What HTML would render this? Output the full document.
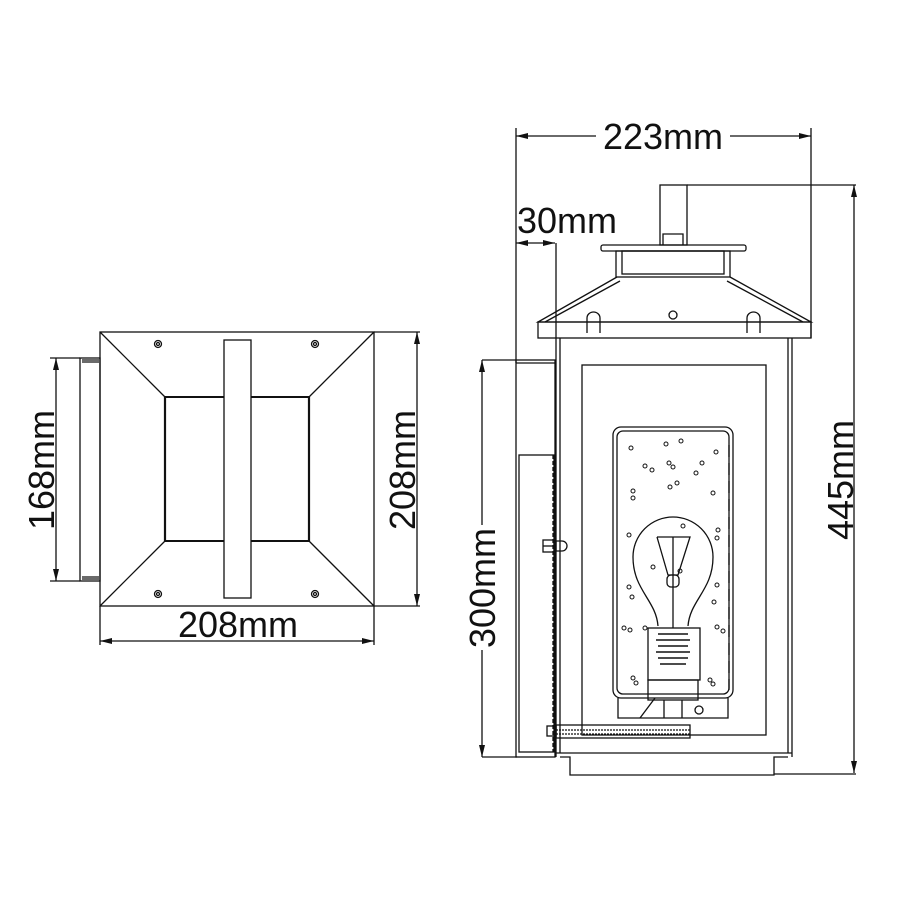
<!DOCTYPE html>
<html><head><meta charset="utf-8"><style>
html,body{margin:0;padding:0;background:#fff;width:900px;height:900px;overflow:hidden}
svg{display:block}
text{font-family:"Liberation Sans",Arial,sans-serif;font-size:36px;fill:#111}
</style></head><body>
<svg width="900" height="900" viewBox="0 0 900 900" xmlns="http://www.w3.org/2000/svg">
<g fill="none" stroke="#111" stroke-width="1.3">
<!-- LEFT VIEW -->
<rect x="100" y="332" width="274" height="274"/>
<rect x="80" y="358" width="20" height="223"/>
<line x1="82" y1="360" x2="99" y2="360"/><line x1="82" y1="362" x2="99" y2="362"/>
<line x1="82" y1="577" x2="99" y2="577"/><line x1="82" y1="579" x2="99" y2="579"/>
<line x1="100" y1="332" x2="165" y2="397"/><line x1="374" y1="332" x2="309" y2="397"/>
<line x1="100" y1="606" x2="165" y2="541"/><line x1="374" y1="606" x2="309" y2="541"/>
<line x1="165" y1="397" x2="165" y2="541" stroke-width="2.2"/><line x1="309" y1="397" x2="309" y2="541" stroke-width="2.2"/>
<line x1="165" y1="397" x2="224" y2="397" stroke-width="2"/><line x1="251" y1="397" x2="309" y2="397" stroke-width="2"/>
<line x1="165" y1="541" x2="224" y2="541" stroke-width="2"/><line x1="251" y1="541" x2="309" y2="541" stroke-width="2"/>
<rect x="224" y="340" width="27" height="258"/>
<circle cx="158" cy="344" r="3.5"/><circle cx="158" cy="344" r="1.5"/>
<circle cx="315" cy="344" r="3.5"/><circle cx="315" cy="344" r="1.5"/>
<circle cx="158" cy="594" r="3.5"/><circle cx="158" cy="594" r="1.5"/>
<circle cx="315" cy="594" r="3.5"/><circle cx="315" cy="594" r="1.5"/>
<!-- dims left -->
<line x1="50" y1="358" x2="80" y2="358"/><line x1="50" y1="581" x2="80" y2="581"/>
<line x1="56" y1="358" x2="56" y2="581"/>
<line x1="374" y1="332" x2="420" y2="332"/><line x1="374" y1="606" x2="420" y2="606"/>
<line x1="417" y1="332" x2="417" y2="606"/>
<line x1="100" y1="606" x2="100" y2="645"/><line x1="374" y1="606" x2="374" y2="645"/>
<line x1="100" y1="641" x2="374" y2="641"/>
<!-- RIGHT VIEW dims -->
<line x1="516" y1="136" x2="811" y2="136"/>
<line x1="516" y1="128" x2="516" y2="363"/><line x1="811" y1="128" x2="811" y2="338"/>
<line x1="687" y1="185" x2="856" y2="185"/>
<line x1="854" y1="185" x2="854" y2="773"/>
<line x1="774" y1="774" x2="856" y2="774"/>
<line x1="516" y1="243" x2="555" y2="243"/>
<line x1="556" y1="243" x2="556" y2="338"/>
<line x1="482" y1="360" x2="516" y2="360"/>
<line x1="482" y1="360" x2="482" y2="525"/><line x1="482" y1="650" x2="482" y2="757"/>
<line x1="482" y1="757" x2="517" y2="757"/>
<!-- chimney & cap -->
<rect x="660" y="185" width="27" height="60"/>
<polyline points="663,245 663,234 683,234 683,245"/>
<rect x="601" y="245" width="145" height="6" rx="2"/>
<rect x="616" y="251" width="114" height="26"/>
<rect x="622" y="251" width="102" height="23"/>
<!-- roof -->
<polyline points="617,277 538,322 811,322 730,277"/>
<polyline points="620,281 545,322"/><polyline points="727,281 803,322"/>
<rect x="538" y="322" width="273" height="16"/>
<path d="M587,333 V318 a6.5,6 0 0 1 13,0 V333"/>
<path d="M747,333 V318 a6.5,6 0 0 1 13,0 V333"/>
<circle cx="673" cy="315" r="4"/>
<!-- body -->
<line x1="556" y1="338" x2="556" y2="757"/><line x1="560" y1="338" x2="560" y2="753"/>
<line x1="792" y1="338" x2="792" y2="757"/><line x1="788" y1="338" x2="788" y2="753"/>
<line x1="556" y1="753" x2="792" y2="753"/>
<polyline points="560,757 570,757 570,775 774,775 774,757 788,757"/>
<rect x="582" y="365" width="184" height="370"/>
<!-- back plate -->
<rect x="516" y="360" width="39" height="397"/>
<line x1="516" y1="363" x2="555" y2="363"/>
<rect x="519" y="455" width="35" height="297"/>
<line x1="553" y1="455" x2="553" y2="752" stroke-dasharray="4,2"/>
<rect x="543" y="540" width="11" height="12"/><line x1="543" y1="546" x2="554" y2="546"/>
<path d="M556,541 h6 a5,5 0 0 1 0,10 h-6z"/>
<!-- glass -->
<rect x="613" y="427" width="120" height="271" rx="8"/>
<rect x="617" y="431" width="112" height="263" rx="6"/>
<line x1="729" y1="445" x2="729" y2="690" stroke-dasharray="12,6"/>
<!-- bulb -->
<path d="M658,626 C656,600 633,590 633,557 A40,40 0 0 1 713,557 C713,590 690,600 688,626"/>
<polyline points="657,537 690,537 678,575 668,575 657,537"/>
<line x1="673" y1="537" x2="673" y2="628"/>
<rect x="667" y="575" width="12" height="12" rx="4"/>
<rect x="648" y="628" width="52" height="52"/>
<rect x="648" y="680" width="50" height="20"/>
<path d="M658,634 h30 M656,640 h34 M658,646 h30 M656,652 h34 M658,658 h30 M660,664 h26" stroke-width="1.6"/>
<polyline points="618,698 618,718 728,718 728,698"/>
<line x1="664" y1="700" x2="664" y2="718"/><line x1="682" y1="700" x2="682" y2="718"/>
<line x1="640" y1="718" x2="655" y2="698"/>
<circle cx="699" cy="710" r="4"/>
<!-- rod -->
<rect x="556" y="725" width="134" height="13"/>
<line x1="556" y1="730" x2="690" y2="730" stroke-dasharray="2,1"/>
<line x1="556" y1="734" x2="690" y2="734" stroke-dasharray="2,1"/>
<rect x="547" y="726" width="9" height="10"/>
<!-- seeds -->
<g stroke-width="1">
<circle cx="631" cy="448" r="2"/><circle cx="666" cy="444" r="2"/><circle cx="681" cy="441" r="2"/><circle cx="716" cy="452" r="2"/>
<circle cx="645" cy="466" r="2"/><circle cx="652" cy="470" r="2"/><circle cx="669" cy="463" r="2"/><circle cx="673" cy="467" r="2"/>
<circle cx="702" cy="463" r="2"/><circle cx="696" cy="473" r="2"/><circle cx="633" cy="491" r="2"/><circle cx="633" cy="498" r="2"/>
<circle cx="670" cy="487" r="2"/><circle cx="677" cy="483" r="2"/><circle cx="713" cy="493" r="2"/><circle cx="629" cy="535" r="2"/>
<circle cx="718" cy="530" r="2"/><circle cx="717" cy="538" r="2"/><circle cx="683" cy="526" r="2"/><circle cx="653" cy="567" r="2"/>
<circle cx="680" cy="571" r="2"/><circle cx="629" cy="587" r="2"/><circle cx="632" cy="597" r="2"/><circle cx="717" cy="585" r="2"/>
<circle cx="714" cy="602" r="2"/><circle cx="624" cy="628" r="2"/><circle cx="630" cy="630" r="2"/><circle cx="645" cy="628" r="2"/>
<circle cx="717" cy="627" r="2"/><circle cx="723" cy="631" r="2"/><circle cx="633" cy="678" r="2"/><circle cx="636" cy="683" r="2"/>
<circle cx="710" cy="680" r="2"/><circle cx="713" cy="684" r="2"/>
</g>
</g>
<!-- arrowheads -->
<g fill="#111">
<polygon points="56,358 53,370 59,370"/><polygon points="56,581 53,569 59,569"/>
<polygon points="417,332 414,344 420,344"/><polygon points="417,606 414,594 420,594"/>
<polygon points="100,641 112,638 112,644"/><polygon points="374,641 362,638 362,644"/>
<polygon points="516,136 528,133 528,139"/><polygon points="811,136 799,133 799,139"/>
<polygon points="854,185 851,197 857,197"/><polygon points="854,773 851,761 857,761"/>
<polygon points="482,360 479,372 485,372"/><polygon points="482,757 479,745 485,745"/>
<polygon points="516,243 528,240 528,246"/><polygon points="555,243 543,240 543,246"/>
</g>
<!-- labels -->
<rect x="596" y="118" width="134" height="36" fill="#fff"/>
<text x="663" y="149" text-anchor="middle">223mm</text>
<text x="567" y="233" text-anchor="middle">30mm</text>
<text x="238" y="637" text-anchor="middle">208mm</text>
<text transform="translate(54,470) rotate(-90)" text-anchor="middle">168mm</text>
<text transform="translate(415,470) rotate(-90)" text-anchor="middle">208mm</text>
<text transform="translate(495,588) rotate(-90)" text-anchor="middle">300mm</text>
<text transform="translate(853,480) rotate(-90)" text-anchor="middle">445mm</text>
</svg>
</body></html>
